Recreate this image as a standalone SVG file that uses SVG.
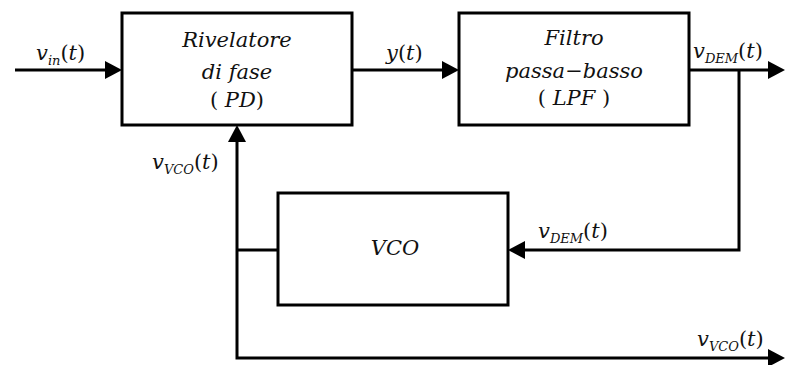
<svg xmlns="http://www.w3.org/2000/svg" width="785" height="365" viewBox="0 0 785 365">
<style>
.box{fill:#fff;stroke:#000;stroke-width:3}
.ln{fill:none;stroke:#000;stroke-width:3}
.ah{fill:#000}
text{font-family:"DejaVu Serif","Liberation Serif",serif;font-style:italic;font-size:21px;fill:#111}
.c{text-anchor:middle}
.s{font-size:13px}
.p{font-style:normal}
</style>
<rect width="785" height="365" fill="#fff"/>
<g id="connectors">
<line class="ln" x1="15" y1="70" x2="108" y2="70"/>
<polygon class="ah" points="122,70 105,61 105,79"/>
<line class="ln" x1="352" y1="70" x2="445" y2="70"/>
<polygon class="ah" points="459,70 442,61 442,79"/>
<line class="ln" x1="689" y1="70" x2="770" y2="70"/>
<polygon class="ah" points="785,70 768,61 768,79"/>
<polyline class="ln" points="739,70 739,250 522,250"/>
<polygon class="ah" points="508,250 525,241 525,259"/>
<line class="ln" x1="278" y1="250" x2="237" y2="250"/>
<polyline class="ln" points="237,140 237,358 770,358"/>
<polygon class="ah" points="237,125 228,142 246,142"/>
<polygon class="ah" points="785,358 768,349 768,367"/>
</g>
<g id="pd">
<rect class="box" x="122" y="13" width="230" height="112"/>
<text class="c" x="237" y="47">Rivelatore</text>
<text class="c" x="237" y="79">di fase</text>
<text class="c" x="237" y="107"><tspan class="p">(</tspan> PD<tspan class="p">)</tspan></text>
</g>
<g id="lpf">
<rect class="box" x="459" y="13" width="230" height="112"/>
<text class="c" x="574" y="45">Filtro</text>
<text class="c" x="574" y="78">passa−basso</text>
<text class="c" x="574" y="105"><tspan class="p">(</tspan> LPF <tspan class="p">)</tspan></text>
</g>
<g id="vco">
<rect class="box" x="278" y="193" width="230" height="112"/>
<text class="c" x="395" y="255">VCO</text>
</g>
<g id="labels">
<text x="36" y="60">v<tspan class="s" dy="5">in</tspan><tspan class="p" dy="-5">(</tspan>t<tspan class="p">)</tspan></text>
<text x="386" y="60">y<tspan class="p">(</tspan>t<tspan class="p">)</tspan></text>
<text x="693" y="58">v<tspan class="s" dy="5">DEM</tspan><tspan class="p" dy="-5">(</tspan>t<tspan class="p">)</tspan></text>
<text x="152" y="169">v<tspan class="s" dy="5">VCO</tspan><tspan class="p" dy="-5">(</tspan>t<tspan class="p">)</tspan></text>
<text x="538" y="238">v<tspan class="s" dy="5">DEM</tspan><tspan class="p" dy="-5">(</tspan>t<tspan class="p">)</tspan></text>
<text x="697" y="346">v<tspan class="s" dy="5">VCO</tspan><tspan class="p" dy="-5">(</tspan>t<tspan class="p">)</tspan></text>
</g>
</svg>
